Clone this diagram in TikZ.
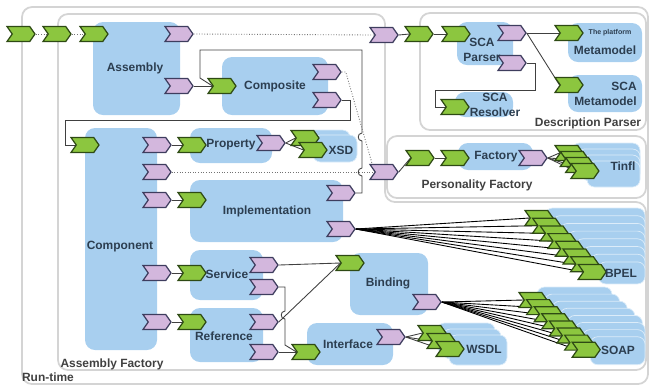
\documentclass[tikz,border=0pt]{standalone}
\usepackage{fontspec}
\setmainfont{Liberation Sans}
\usetikzlibrary{shapes.symbols}
\definecolor{boxblue}{HTML}{A8CFEF}
\definecolor{srvgreen}{HTML}{8CC63F}
\definecolor{srvline}{HTML}{2E4A14}
\definecolor{refpurple}{HTML}{D3B7DD}
\definecolor{refline}{HTML}{3E3D5E}
\definecolor{labeltext}{HTML}{2C3E50}
\definecolor{frame}{HTML}{D4D4D4}
\pgfdeclarelayer{back}
\pgfdeclarelayer{wires}
\pgfsetlayers{back,wires,main}
\tikzset{srv/.style = {signal, signal to=east, signal from=west, signal pointer angle=110, draw=srvline, fill=srvgreen, line width=0.7pt, minimum width=0.56cm, minimum height=0.3cm, inner sep=0pt}}
\tikzset{ref/.style = {srv, draw=refline, fill=refpurple}}
\tikzset{comp/.style = {fill=boxblue, rounded corners=0.2cm}}
\tikzset{stack/.style = {comp, rounded corners=0.15cm, draw=white!60!boxblue, line width=0.4pt}}
\tikzset{lbl/.style = {font=\bfseries\fontsize{6.8}{8.5}\selectfont, text=labeltext, inner sep=0pt, align=center}}
\tikzset{wire/.style = {draw=black!75, line width=0.5pt}}
\tikzset{dotwire/.style = {wire, draw=black!55, densely dotted}}
\tikzset{container/.style = {draw=frame, line width=1pt, rounded corners=0.2cm}}

\begin{document}
\begin{tikzpicture}[x=0.02cm, y=-0.02cm]
		\useasboundingbox (0,0) rectangle (651,387);
		
		% containers and components
		\begin{pgfonlayer}{back}
		\draw[container] (22,7) rectangle (648,384);
		\draw[container] (58,14) -- (385,14) -- (385,202) -- (646,202) -- (646,370) -- (58,370) -- cycle;
		\draw[container] (420,13) rectangle (646,130);
		\draw[container] (387,136) rectangle (646,198);
		\path[comp] (93,22) rectangle (180,115);
		\path[comp] (222,57) rectangle (328,115);
		\path[comp] (85,128) rectangle (157,350);
		\path[comp] (190,128) rectangle (272,163);
		\path[comp] (190,180) rectangle (343,242);
		\path[comp] (190,250) rectangle (263,300);
		\path[comp] (190,308) rectangle (263,362);
		\path[comp] (350,253) rectangle (428,315);
		\path[comp] (307,323) rectangle (393,365);
		\path[comp] (457,22) rectangle (513,65);
		\path[comp] (455,92) rectangle (513,117);
		\path[comp] (568,23) rectangle (642,62);
		\path[comp] (568,75) rectangle (642,112);
		\path[comp] (458,143) rectangle (533,170);
		\path[stack] (307,130) rectangle (350,157);
		\path[stack] (313,135) rectangle (357,162);
		\foreach \i in {0,...,3}
			\path[stack] ({572+5*\i},{143+6*\i}) rectangle (640,{169+6*\i});
		\foreach \i in {0,1,2}
			\path[stack] ({437+6*\i},{323+6*\i}) rectangle ({495+6*\i},{353+6*\i});
		\foreach \i in {0,...,7}
			\path[stack] ({545+7.6*\i},{208+7.7*\i}) rectangle (645,{230+7.7*\i});
		\foreach \i in {0,...,7}{
			\pgfmathsetmacro\rx{min(645,612+7.6*\i)}
			\path[stack] ({537+7.6*\i},{287+7.1*\i}) rectangle (\rx,{315+7.1*\i});
		}
		\end{pgfonlayer}
		
		% services and references
		\node[srv] (in1) at (21,34) {};
		\node[srv] (in2) at (57,34) {};
		\node[srv] (in3) at (94,34) {};
		\node[ref] (asmout) at (179,34) {};
		\node[ref] (asmref) at (179,86) {};
		\node[srv] (cmpin) at (222,86) {};
		\node[ref] (cmpout1) at (327,72) {};
		\node[ref] (cmpout2) at (327,100) {};
		\node[ref] (pdesc) at (384,35) {};
		\node[srv] (pin1) at (419,34) {};
		\node[srv] (pin2) at (456,34) {};
		\node[ref] (parseout1) at (512,33) {};
		\node[ref] (parseout2) at (512,63) {};
		\node[srv] (meta1) at (569,33) {};
		\node[srv] (meta2) at (569,85) {};
		\node[srv] (resin) at (455,107) {};
		\node[srv] (compin) at (85,145) {};
		\node[ref] (c1) at (157,145) {};
		\node[ref] (c2) at (157,172) {};
		\node[ref] (c3) at (157,200) {};
		\node[ref] (c4) at (157,273) {};
		\node[ref] (c5) at (157,322) {};
		\node[srv] (propin) at (192,145) {};
		\node[srv] (implin) at (192,200) {};
		\node[srv] (servin) at (192,273) {};
		\node[srv] (refin) at (192,322) {};
		\node[ref] (propout) at (271,143) {};
		\node[ref] (implout1) at (341,193) {};
		\node[ref] (implout2) at (341,229) {};
		\node[ref] (pfac) at (384,172) {};
		\node[srv] (fin1) at (420,158) {};
		\node[srv] (fin2) at (455,158) {};
		\node[ref] (facout) at (533,158) {};
		\node[ref] (s1) at (264,265) {};
		\node[ref] (s2) at (264,287) {};
		\node[ref] (r1) at (264,322) {};
		\node[ref] (r2) at (264,352) {};
		\node[srv] (bindin) at (350,263) {};
		\node[ref] (bindout) at (427,302) {};
		\node[srv] (ifin) at (306,352) {};
		\node[ref] (ifout) at (391,337) {};
		\node[srv] (xsd0) at (305,138) {};
		\node[srv] (xsd1) at (313,150) {};
		\foreach \i in {0,...,3}
			\node[srv] (tinfl\i) at ({569+5.3*\i},{153+6*\i}) {};
		\foreach \i in {0,1,2}
			\node[srv] (wsdl\i) at ({432+9*\i},{333+8*\i}) {};
		\foreach \i in {0,...,7}
			\node[srv] (bpel\i) at ({539+7.6*\i},{218+7.7*\i}) {};
		\foreach \i in {0,...,7}
			\node[srv] (soap\i) at ({533+7.6*\i},{300+7.1*\i}) {};
		
		% wires
		\begin{pgfonlayer}{wires}
		\draw[dotwire] (in1.east) -- (in2.west);
		\draw[dotwire] (in2.east) -- (in3.west);
		\draw[dotwire] (asmout.east) -- (pdesc.west);
		\draw[wire] (pdesc.east) -- (pin1.west);
		\draw[wire] (pin1.east) -- (pin2.west);
		\draw[wire] (asmref.east) -- (cmpin.west);
		\draw[wire] (parseout1.east) -- (meta1.west);
		\draw[wire] (parseout1.east) -- (meta2.west);
		\draw[wire] (parseout2.east) -| (535,90) -| (435,107) -- (resin.west);
		\draw[wire] (cmpout2.east) -| (350,120) -| (65,145) -- (compin.west);
		\draw[wire] (implout1.east) -- (362,193) -- (362,176) to[out=180,in=180,looseness=1.6] (362,168) -- (362,141) to[out=180,in=180,looseness=1.6] (362,133) -- (362,50) -- (200,50) -- (200,78) -- (cmpin.west);
		\draw[dotwire] (cmpout1.east) -- ++(4,0) -- (pfac.west);
		\draw[dotwire] (c2.east) -- (pfac.west);
		\draw[wire] (pfac.east) -- (fin1.west);
		\draw[wire] (fin1.east) -- (fin2.west);
		\draw[wire] (c1.east) -- (propin.west);
		\draw[wire] (c3.east) -- (implin.west);
		\draw[wire] (c4.east) -- (servin.west);
		\draw[wire] (c5.east) -- (refin.west);
		\draw[wire] (s1.east) -- (bindin.west);
		\draw[wire] (r1.east) -- (bindin.west);
		\draw[wire] (s2.east) -- (285,287) -- (285,311) to[out=180,in=180,looseness=1.6] (285,319) -- (285,345) -- (ifin.west);
		\draw[wire] (r2.east) -- (ifin.west);
		\foreach \i in {0,1}
			\draw[wire] (propout.east) -- (xsd\i.west);
		\foreach \i in {0,...,3}
			\draw[wire] (facout.east) -- (tinfl\i.west);
		\foreach \i in {0,1,2}
			\draw[wire] (ifout.east) -- (wsdl\i.west);
		\foreach \i in {0,...,7}
			\draw[wire, draw=black] (implout2.east) -- (bpel\i.west);
		\foreach \i in {0,...,7}
			\draw[wire, draw=black] (bindout.east) -- (soap\i.west);
		\end{pgfonlayer}
		
		% labels
		\node[lbl] (asm) at (135,68) {Assembly};
		\node[lbl] (cps) at (275,86) {Composite};
		\node[lbl] (cpn) at (120,247) {Component};
		\node[lbl] (prp) at (231,145) {Property};
		\node[lbl] (xsd) at (341,150) {XSD};
		\node[lbl] (imp) at (267,211) {Implementation};
		\node[lbl] (srvl) at (227,274) {Service};
		\node[lbl] (refl) at (224,336) {Reference};
		\node[lbl] (bnd) at (388,283) {Binding};
		\node[lbl] (itf) at (348,344) {Interface};
		\node[lbl] (wsd) at (484,349) {WSDL};
		\node[lbl] (bpl) at (621,273) {BPEL};
		\node[lbl] (sop) at (618,350) {SOAP};
		\node[lbl] (fac) at (496,157) {Factory};
		\node[lbl] (tnf) at (623,166) {Tinfl};
		\node[lbl] (prs) at (482,50) {SCA\\Parser};
		\node[lbl] (rsv) at (495,105) {SCA\\Resolver};
		\node[lbl, font=\bfseries\fontsize{4}{5}\selectfont] (plt) at (610,33) {The platform};
		\node[lbl] (mm1) at (605,50) {Metamodel};
		\node[lbl, anchor=east, align=right] (mm2) at (637,94) {SCA\\Metamodel};
		\node[lbl, text=black!75] (dpl) at (588,123) {Description Parser};
		\node[lbl, text=black!75] (pfl) at (477,185) {Personality Factory};
		\node[lbl, text=black!75] (afl) at (112,364) {Assembly Factory};
		\node[lbl, text=black!75] (rtl) at (48,377) {Run-time};
	\end{tikzpicture}
\end{document}
